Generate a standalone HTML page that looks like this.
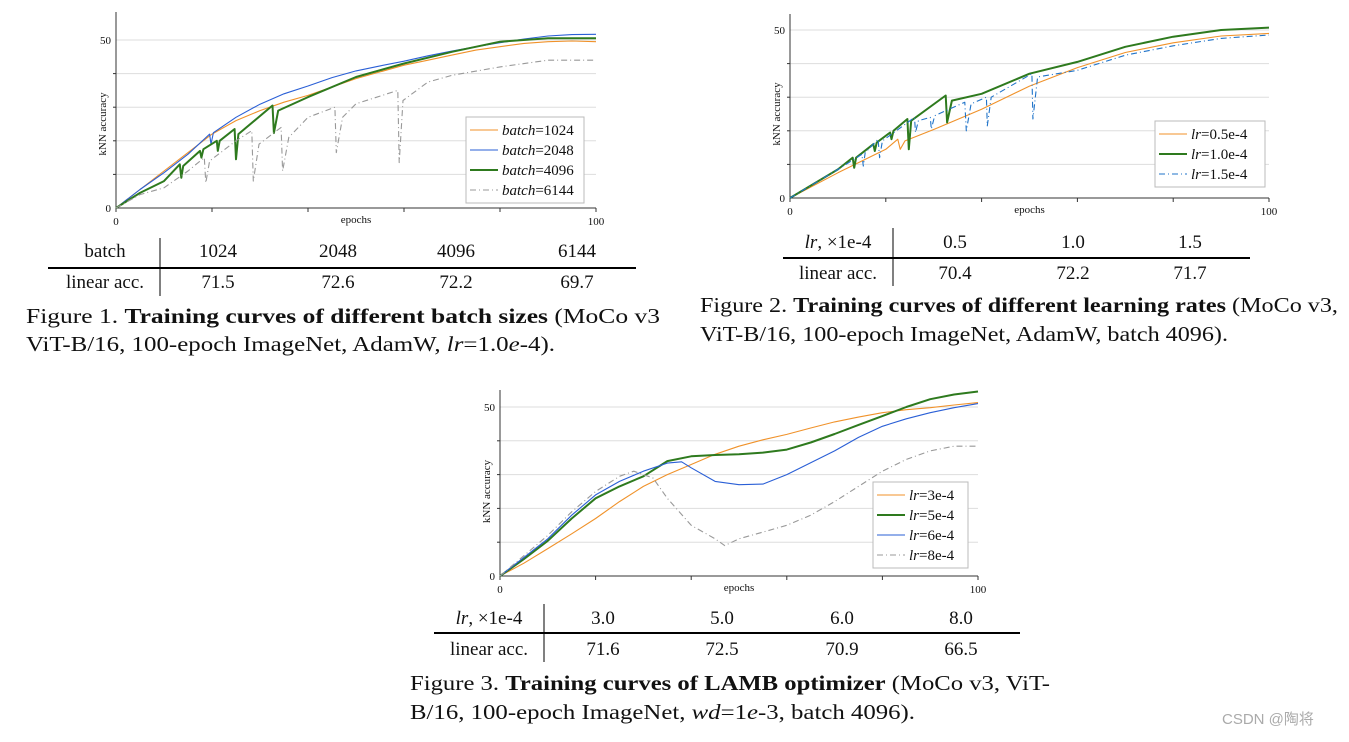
<!DOCTYPE html>
<html><head><meta charset="utf-8"><style>
body{margin:0;background:#fff;width:1349px;height:737px;overflow:hidden}
svg text{font-family:"Liberation Serif",serif;fill:#111}
</style></head><body>
<svg id="fig" width="1349" height="737" viewBox="0 0 1349 737" xmlns="http://www.w3.org/2000/svg">
<g id="c1"></g>
<g id="c2"></g>
<g id="c3"></g>

<!-- table 1 -->
<g font-size="19">
<text x="105" y="257" text-anchor="middle">batch</text>
<text x="218" y="257" text-anchor="middle">1024</text><text x="338" y="257" text-anchor="middle">2048</text><text x="456" y="257" text-anchor="middle">4096</text><text x="577" y="257" text-anchor="middle">6144</text>
<line x1="48" y1="268" x2="636" y2="268" stroke="#000" stroke-width="2"/>
<line x1="160" y1="238" x2="160" y2="296" stroke="#000" stroke-width="1"/>
<text x="105" y="288" text-anchor="middle">linear acc.</text>
<text x="218" y="288" text-anchor="middle">71.5</text><text x="338" y="288" text-anchor="middle">72.6</text><text x="456" y="288" text-anchor="middle">72.2</text><text x="577" y="288" text-anchor="middle">69.7</text>
</g>
<g font-size="21">
<text x="26" y="323" textLength="634" lengthAdjust="spacingAndGlyphs">Figure 1.   <tspan font-weight="bold">Training curves of different batch sizes</tspan> (MoCo v3</text>
<text x="26" y="351" textLength="529" lengthAdjust="spacingAndGlyphs">ViT-B/16, 100-epoch ImageNet, AdamW, <tspan font-style="italic">lr</tspan>=1.0<tspan font-style="italic">e</tspan>-4).</text>
</g>

<!-- table 2 -->
<g font-size="19">
<text x="838" y="248" text-anchor="middle"><tspan font-style="italic">lr</tspan>, ×1e-4</text>
<text x="955" y="248" text-anchor="middle">0.5</text><text x="1073" y="248" text-anchor="middle">1.0</text><text x="1190" y="248" text-anchor="middle">1.5</text>
<line x1="783" y1="258" x2="1250" y2="258" stroke="#000" stroke-width="2"/>
<line x1="893" y1="228" x2="893" y2="286" stroke="#000" stroke-width="1"/>
<text x="838" y="279" text-anchor="middle">linear acc.</text>
<text x="955" y="279" text-anchor="middle">70.4</text><text x="1073" y="279" text-anchor="middle">72.2</text><text x="1190" y="279" text-anchor="middle">71.7</text>
</g>
<g font-size="21">
<text x="700" y="312" textLength="638" lengthAdjust="spacingAndGlyphs">Figure 2.  <tspan font-weight="bold">Training curves of different learning rates</tspan> (MoCo v3,</text>
<text x="700" y="341" textLength="528" lengthAdjust="spacingAndGlyphs">ViT-B/16, 100-epoch ImageNet, AdamW, batch 4096).</text>
</g>

<!-- table 3 -->
<g font-size="19">
<text x="489" y="624" text-anchor="middle"><tspan font-style="italic">lr</tspan>, ×1e-4</text>
<text x="603" y="624" text-anchor="middle">3.0</text><text x="722" y="624" text-anchor="middle">5.0</text><text x="842" y="624" text-anchor="middle">6.0</text><text x="961" y="624" text-anchor="middle">8.0</text>
<line x1="434" y1="633" x2="1020" y2="633" stroke="#000" stroke-width="2"/>
<line x1="544" y1="604" x2="544" y2="662" stroke="#000" stroke-width="1"/>
<text x="489" y="655" text-anchor="middle">linear acc.</text>
<text x="603" y="655" text-anchor="middle">71.6</text><text x="722" y="655" text-anchor="middle">72.5</text><text x="842" y="655" text-anchor="middle">70.9</text><text x="961" y="655" text-anchor="middle">66.5</text>
</g>
<g font-size="21">
<text x="410" y="690" textLength="640" lengthAdjust="spacingAndGlyphs">Figure 3.  <tspan font-weight="bold">Training curves of LAMB optimizer</tspan> (MoCo v3, ViT-</text>
<text x="410" y="719" textLength="505" lengthAdjust="spacingAndGlyphs">B/16, 100-epoch ImageNet, <tspan font-style="italic">wd</tspan>=1<tspan font-style="italic">e</tspan>-3, batch 4096).</text>
</g>
<text x="1222" y="724" font-size="15" style="font-family:'Liberation Sans','Noto Sans CJK SC',sans-serif;fill:#aaa">CSDN @陶将</text>
</svg>
<script>
// ---------- Chart 1 data (batch sizes) ----------
const c1Ticks = ["0", "50"];
const c1XTicks = ["0", "100"];
const c1LegendLabels = ["1024", "2048", "4096", "6144"];
const c1_b1024_x = [0, 5, 10, 15, 20, 25, 30, 35, 40, 45, 50, 55, 60, 65, 70, 75, 80, 85, 90, 95, 100];
const c1_b1024_y = [0, 5.5, 11, 16.5, 22, 26, 29, 31.5, 33.5, 36, 38.5, 40.5, 42.5, 44, 45.5, 47, 48, 49, 49.5, 49.7, 49.5];
const c1_b2048_x = [0, 5, 10, 15, 19.5, 19.8, 20.3, 25, 30, 35, 40, 45, 50, 55, 60, 65, 70, 75, 80, 85, 90, 95, 100];
const c1_b2048_y = [0, 5.5, 10.5, 16, 22, 19, 22.4, 27, 30.9, 34, 36.3, 38.8, 40.8, 42.3, 43.7, 45.3, 46.7, 48, 49.2, 50.3, 51.2, 51.6, 51.7];
const c1_b4096_x = [0, 5, 10, 13.3, 13.6, 14, 17.5, 17.8, 18.2, 21, 21.2, 21.6, 24.7, 25, 25.5, 32.6, 32.9, 33.8, 40, 50, 60, 70, 80, 90, 100];
const c1_b4096_y = [0, 4.5, 8, 13, 9, 12.5, 17, 15, 17.5, 20, 17, 20, 23.5, 14.5, 22, 30.5, 22.3, 29, 33, 39, 43, 46.5, 49.5, 50.5, 50.5];
const c1_b6144_x = [0, 5, 10, 15, 18.4, 18.7, 19.5, 25, 28.3, 28.6, 29.8, 34.4, 34.7, 36, 40, 45.6, 45.9, 47.2, 50, 58.7, 59, 59.8, 65, 70, 80, 90, 100];
const c1_b6144_y = [0, 4, 6, 11, 15, 7.5, 14, 20, 23, 8, 19, 24, 11, 21, 27, 30, 16.5, 27, 31, 35, 13.5, 32, 37.5, 39.5, 42, 44, 44];

// ---------- Chart 2 data (learning rates) ----------
const c2Ticks = ["0", "50"];
const c2XTicks = ["0", "100"];
const c2LegendLabels = ["0.5e-4", "1.0e-4", "1.5e-4"];
const c2_lr05_x = [0, 10, 20, 22.5, 23, 24, 30, 40, 50, 60, 70, 80, 90, 100];
const c2_lr05_y = [0, 7.5, 14.5, 17.5, 14.5, 17, 20.4, 26.4, 33.3, 38.8, 43.3, 46.2, 48.2, 49];
const c2_lr10_x = [0, 10, 13.1, 13.4, 13.8, 17.4, 17.7, 18.1, 20.9, 21.2, 21.6, 24.5, 24.8, 25.3, 32.5, 32.8, 33.8, 40, 50, 60, 70, 80, 90, 100];
const c2_lr10_y = [0, 8.5, 12, 9, 12, 16, 14, 16.5, 19.5, 17.5, 20, 23.5, 14.5, 23, 30.5, 22.5, 29, 31, 37, 40.5, 45, 48, 50, 50.7];
const c2_lr15_x = [0, 10, 15, 15.3, 15.7, 18.4, 18.7, 19.3, 26, 26.2, 26.8, 29.3, 29.5, 30.2, 36.5, 36.8, 37.8, 41, 41.2, 42, 50.5, 50.7, 51.7, 60, 70, 80, 90, 100];
const c2_lr15_y = [0, 8.5, 13, 9.5, 13.5, 17.5, 12, 17, 24, 19.5, 23, 24, 20.5, 24.5, 28.5, 20, 28, 30, 21.5, 30, 37, 23.5, 36, 38, 42.5, 45.3, 47.5, 48.5];

// ---------- Chart 3 data (LAMB) ----------
const c3Ticks = ["0", "50"];
const c3XTicks = ["0", "100"];
const c3LegendLabels = ["3e-4", "5e-4", "6e-4", "8e-4"];
const c3_lr3_x = [0, 5, 10, 15, 20, 25, 30, 35, 40, 45, 50, 55, 60, 65, 70, 75, 80, 85, 90, 95, 100];
const c3_lr3_y = [0, 3.8, 8.1, 12.5, 17, 22, 26.5, 30, 33, 36, 38.4, 40.3, 41.9, 43.8, 45.6, 47, 48.3, 49.2, 49.8, 50.6, 51.3];
const c3_lr5_x = [0, 5, 10, 15, 20, 25, 30, 35, 40, 45, 50, 55, 60, 65, 70, 75, 80, 85, 90, 95, 100];
const c3_lr5_y = [0, 5, 10.4, 17, 23, 26.5, 29.5, 34, 35.4, 35.8, 36, 36.5, 37.4, 39.5, 42, 44.7, 47.3, 50, 52.3, 53.7, 54.6];
const c3_lr6_x = [0, 5, 10, 15, 20, 25, 30, 35, 38, 40, 45, 50, 55, 60, 65, 70, 75, 80, 85, 90, 95, 100];
const c3_lr6_y = [0, 5.5, 11, 18, 24, 28, 31, 33.4, 33.8, 32, 28, 27, 27.2, 30, 33.5, 37, 41, 44.3, 46.5, 48.3, 49.8, 51];
const c3_lr8_x = [0, 5, 10, 15, 20, 25, 28, 32, 35, 40, 45, 47, 50, 55, 60, 65, 70, 75, 80, 85, 90, 95, 100];
const c3_lr8_y = [0, 6, 12, 19, 25, 29.5, 31, 29, 23, 15, 11, 9, 11, 13, 15, 18, 22, 26.5, 31, 34.5, 37, 38.4, 38.4];

const NS = "http://www.w3.org/2000/svg";
function mk(tag, attrs, parent) {
  const e = document.createElementNS(NS, tag);
  for (const k in attrs) e.setAttribute(k, attrs[k]);
  parent.appendChild(e);
  return e;
}

function drawChart(gid, box, yTicks, xTicks, series, legend, legendPrefix) {
  const g = document.getElementById(gid);
  const sx = v => box.x0 + (v / 100) * (box.x1 - box.x0);
  const sy = v => box.y0 - (v / 50) * (box.y0 - box.y50);
  for (let v = 10; v <= 50; v += 10) {
    const gl = mk("line", {x1: sx(0), x2: sx(100), y1: sy(v), y2: sy(v), stroke: "#ddd", "stroke-width": 1}, g);
    
    
  }
  const ya = mk("line", {x1: sx(0), x2: sx(0), y1: box.top, y2: sy(0), stroke: "#333", "stroke-width": 1}, g);
  
  
  const xa = mk("line", {x1: sx(0), x2: sx(100), y1: sy(0), y2: sy(0), stroke: "#333", "stroke-width": 1}, g);
  
  
  for (let v = 0; v <= 100; v += 20) {
    const t = mk("line", {x1: sx(v), x2: sx(v), y1: sy(0), y2: sy(0) + 4, stroke: "#333"}, g);
    
    
  }
  for (let v = 10; v <= 40; v += 10) {
    const t = mk("line", {x1: sx(0) - 3, x2: sx(0), y1: sy(v), y2: sy(v), stroke: "#333"}, g);
    
    
  }
  [0, 50].forEach((v, i) => {
    const t = mk("text", {x: sx(0) - 5, y: sy(v) + 4, "text-anchor": "end", "font-size": 11}, g);
    t.textContent = yTicks[i];
    
    
  });
  [0, 100].forEach((v, i) => {
    const t = mk("text", {x: sx(v), y: sy(0) + 17, "text-anchor": "middle", "font-size": 11}, g);
    t.textContent = xTicks[i];
    
    
  });
  const xt = mk("text", {x: sx(50), y: sy(0) + 15, "text-anchor": "middle", "font-size": 11}, g);
  xt.textContent = "epochs";
  
  
  const cy = (sy(0) + sy(50)) / 2;
  const yt = mk("text", {x: sx(0) - 10, y: cy, "text-anchor": "middle", "font-size": 11, transform: `rotate(-90 ${sx(0) - 10} ${cy})`}, g);
  yt.textContent = "kNN accuracy";
  
  
  series.forEach(s => {
    const d = s.x.map((v, i) => (i ? "L" : "M") + sx(v).toFixed(1) + "," + sy(s.y[i]).toFixed(1)).join(" ");
    const p = mk("path", {d: d, fill: "none", stroke: s.color, "stroke-width": s.w, "stroke-dasharray": s.dash || "none", "stroke-linejoin": "round"}, g);
    
    
  });
  const lg = mk("g", {}, g);
  
  
  mk("rect", {x: legend.x, y: legend.y, width: legend.w, height: series.length * 20 + 6, fill: "#fff", stroke: "#bbb"}, lg);
  series.forEach((s, i) => {
    const yy = legend.y + 13 + i * 20;
    const ln = mk("line", {x1: legend.x + 4, x2: legend.x + 32, y1: yy, y2: yy, stroke: s.color, "stroke-width": s.w, "stroke-dasharray": s.dash || "none"}, lg);
    
    
    const t = mk("text", {x: legend.x + 36, y: yy + 5, "font-size": 15}, lg);
    t.innerHTML = `<tspan font-style="italic">${legendPrefix}</tspan>=${legend.labels[i]}`;
    
    
  });
}

const OR = "#f0922a", BL = "#2a5fd6", GR = "#2e7a1e", GY = "#999";
drawChart("c1", {x0: 116, x1: 596, y0: 208, y50: 40, top: 12}, c1Ticks, c1XTicks, [
  {x: c1_b1024_x, y: c1_b1024_y, color: OR, w: 1.1, name: "line-batch-1024"},
  {x: c1_b2048_x, y: c1_b2048_y, color: BL, w: 1.1, name: "line-batch-2048"},
  {x: c1_b4096_x, y: c1_b4096_y, color: GR, w: 2, name: "line-batch-4096"},
  {x: c1_b6144_x, y: c1_b6144_y, color: GY, w: 1.1, dash: "6 3 1 3", name: "line-batch-6144"}
], {x: 466, y: 117, w: 118, labels: c1LegendLabels}, "batch");

drawChart("c2", {x0: 790, x1: 1269, y0: 198, y50: 30, top: 14}, c2Ticks, c2XTicks, [
  {x: c2_lr05_x, y: c2_lr05_y, color: OR, w: 1.1, name: "line-lr-0.5e-4"},
  {x: c2_lr10_x, y: c2_lr10_y, color: GR, w: 2, name: "line-lr-1.0e-4"},
  {x: c2_lr15_x, y: c2_lr15_y, color: "#1f73c9", w: 1.1, dash: "6 3 1 3", name: "line-lr-1.5e-4"}
], {x: 1155, y: 121, w: 110, labels: c2LegendLabels}, "lr");

drawChart("c3", {x0: 500, x1: 978, y0: 576, y50: 407, top: 390}, c3Ticks, c3XTicks, [
  {x: c3_lr3_x, y: c3_lr3_y, color: OR, w: 1.1, name: "line-lr-3e-4"},
  {x: c3_lr5_x, y: c3_lr5_y, color: GR, w: 2, name: "line-lr-5e-4"},
  {x: c3_lr6_x, y: c3_lr6_y, color: BL, w: 1.1, name: "line-lr-6e-4"},
  {x: c3_lr8_x, y: c3_lr8_y, color: GY, w: 1.1, dash: "6 3 1 3", name: "line-lr-8e-4"}
], {x: 873, y: 482, w: 95, labels: c3LegendLabels}, "lr");
</script>
</body></html>
